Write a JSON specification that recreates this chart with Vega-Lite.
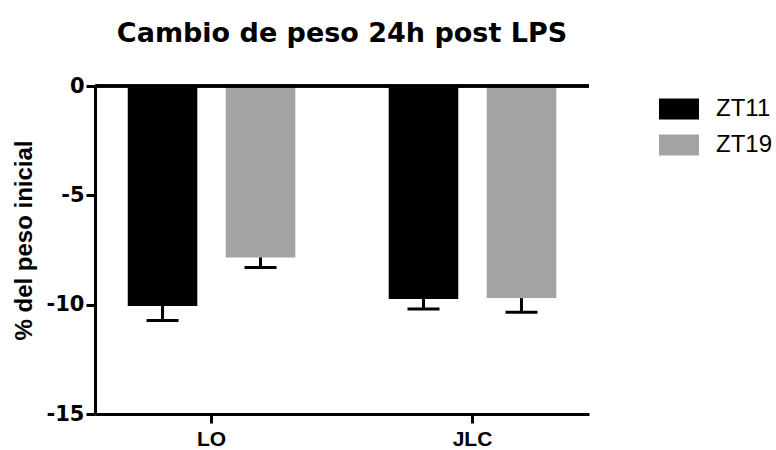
{
  "$schema": "https://vega.github.io/schema/vega-lite/v6.json",
  "width": 494,
  "height": 328,
  "autosize": {"type": "none"},
  "padding": {"left": 95, "top": 86, "right": 187, "bottom": 36},
  "background": "white",
  "title": {
    "text": "Cambio de peso 24h post LPS",
    "font": "DejaVu Sans",
    "fontWeight": "bold",
    "fontSize": 27,
    "color": "black",
    "anchor": "middle",
    "frame": "group",
    "baseline": "alphabetic",
    "offset": 6
  },
  "data": {
    "values": [
      {"grupo": "LO", "zt": "ZT11", "cambio": -10.06, "inferior": -10.72},
      {"grupo": "LO", "zt": "ZT19", "cambio": -7.84, "inferior": -8.30},
      {"grupo": "JLC", "zt": "ZT11", "cambio": -9.74, "inferior": -10.20},
      {"grupo": "JLC", "zt": "ZT19", "cambio": -9.70, "inferior": -10.35}
    ]
  },
  "config": {
    "view": {"stroke": null},
    "axis": {
      "grid": false,
      "domainColor": "black",
      "domainWidth": 3,
      "tickColor": "black",
      "tickWidth": 3,
      "tickSize": 9,
      "labelColor": "black",
      "labelFontWeight": "bold",
      "titleColor": "black"
    }
  },
  "encoding": {
    "x": {
      "field": "grupo",
      "type": "nominal",
      "sort": ["LO", "JLC"],
      "scale": {"paddingInner": 0.358, "paddingOuter": 0.1255},
      "axis": {
        "title": null,
        "labelAngle": 0,
        "labelFont": "Liberation Sans",
        "labelFontSize": 21,
        "labelPadding": 5
      }
    },
    "xOffset": {
      "field": "zt",
      "type": "nominal",
      "sort": ["ZT11", "ZT19"],
      "scale": {"paddingInner": 0.29, "paddingOuter": 0}
    }
  },
  "layer": [
    {
      "mark": {"type": "bar"},
      "encoding": {
        "y": {
          "field": "cambio",
          "type": "quantitative",
          "scale": {"domain": [-15, 0], "nice": false, "zero": false},
          "axis": {
            "values": [0, -5, -10, -15],
            "labelExpr": "replace(datum.label, '\u2212', '-')",
            "title": "% del peso inicial",
            "titleFont": "Liberation Sans",
            "titleFontSize": 24,
            "titleFontWeight": "bold",
            "titleAngle": -90,
            "titleX": -71,
            "titleY": 154,
            "titleAlign": "center",
            "titleBaseline": "middle",
            "labelFont": "DejaVu Sans",
            "labelFontSize": 21,
            "labelPadding": 2
          }
        },
        "y2": {"datum": 0},
        "color": {
          "field": "zt",
          "type": "nominal",
          "sort": ["ZT11", "ZT19"],
          "scale": {"domain": ["ZT11", "ZT19"], "range": ["#000000", "#a3a3a6"]},
          "legend": {
            "title": null,
            "orient": "none",
            "legendX": 564,
            "legendY": 3,
            "padding": 0,
            "symbolType": "M-1,-0.525H1V0.525H-1Z",
            "symbolSize": 1600,
            "symbolStrokeWidth": 0,
            "symbolOpacity": 1,
            "labelFont": "Liberation Sans",
            "labelFontSize": 24,
            "labelColor": "black",
            "labelOffset": 17,
            "rowPadding": 4
          }
        }
      }
    },
    {
      "mark": {"type": "rule", "color": "black", "strokeWidth": 3},
      "encoding": {"y": {"datum": 0}, "x": null, "xOffset": null}
    },
    {
      "mark": {"type": "rule", "color": "black", "strokeWidth": 3},
      "encoding": {
        "y": {"field": "cambio", "type": "quantitative"},
        "y2": {"field": "inferior"}
      }
    },
    {
      "mark": {"type": "tick", "color": "black", "size": 32, "thickness": 3, "opacity": 1},
      "encoding": {
        "y": {"field": "inferior", "type": "quantitative"}
      }
    }
  ]
}
